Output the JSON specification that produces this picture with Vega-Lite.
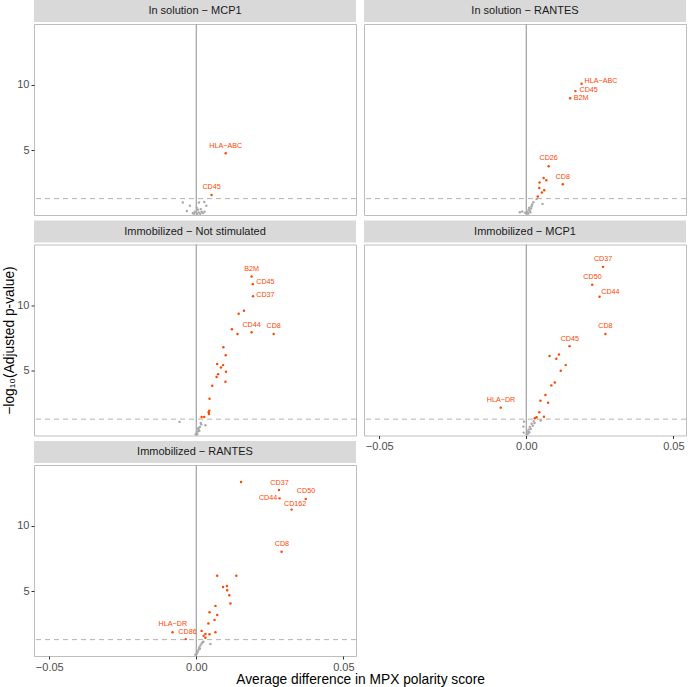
{
  "$schema": "https://vega.github.io/schema/vega-lite/v6.json",
  "padding": {"left": 2, "top": 0, "right": 0, "bottom": 0},
  "background": "white",
  "config": {
    "font": "Liberation Sans",
    "view": {"stroke": "#bdbdbd", "strokeWidth": 1},
    "axis": {"grid": false, "domain": false, "tickColor": "#333333", "tickSize": 3, "labelColor": "#4d4d4d", "labelFontSize": 11, "labelFont": "Liberation Sans", "titleFont": "Liberation Sans", "titleFontSize": 13.75, "titleFontWeight": "normal", "titleColor": "#000000"},
    "title": {"font": "Liberation Sans", "fontSize": 13.75, "fontWeight": "normal", "color": "#000000"}
  },
  "title": {"text": "Average difference in MPX polarity score", "orient": "bottom", "anchor": "middle", "offset": 0, "dx": 16},
  "datasets": {
    "p1": [
      {"x": 0.0100, "y": 4.77, "sig": "yes", "label": "HLA−ABC", "lx": 0.0100, "ly": 5.36},
      {"x": 0.0052, "y": 1.58, "sig": "yes", "label": "CD45", "lx": 0.0052, "ly": 2.17},
      {"x": -0.0046, "y": 1.0, "sig": "no"}, {"x": -0.0022, "y": 0.75, "sig": "no"}, {"x": 0.0009, "y": 1.0, "sig": "no"},
      {"x": 0.0027, "y": 1.05, "sig": "no"}, {"x": 0.0034, "y": 0.75, "sig": "no"}, {"x": -0.0032, "y": 0.35, "sig": "no"},
      {"x": -0.0012, "y": 0.2, "sig": "no"}, {"x": -0.0005, "y": 0.3, "sig": "no"}, {"x": 0.0003, "y": 0.15, "sig": "no"},
      {"x": 0.0008, "y": 0.25, "sig": "no"}, {"x": 0.0013, "y": 0.15, "sig": "no"}, {"x": 0.0018, "y": 0.3, "sig": "no"},
      {"x": 0.0022, "y": 0.2, "sig": "no"}, {"x": 0.0005, "y": 0.45, "sig": "no"}, {"x": -0.0008, "y": 0.15, "sig": "no"},
      {"x": 0.0015, "y": 0.5, "sig": "no"}, {"x": 0.0028, "y": 0.3, "sig": "no"}, {"x": 0.0001, "y": 0.6, "sig": "no"}
    ],
    "p2": [
      {"x": 0.0188, "y": 10.08, "sig": "yes", "label": "HLA−ABC", "lx": 0.0254, "ly": 10.28},
      {"x": 0.0167, "y": 9.52, "sig": "yes", "label": "CD45", "lx": 0.0212, "ly": 9.62},
      {"x": 0.0149, "y": 8.98, "sig": "yes", "label": "B2M", "lx": 0.0186, "ly": 9.01},
      {"x": 0.0076, "y": 3.78, "sig": "yes", "label": "CD26", "lx": 0.0076, "ly": 4.37},
      {"x": 0.0124, "y": 2.40, "sig": "yes", "label": "CD8", "lx": 0.0124, "ly": 2.99},
      {"x": 0.0059, "y": 2.88, "sig": "yes"}, {"x": 0.0068, "y": 2.71, "sig": "yes"}, {"x": 0.0045, "y": 2.53, "sig": "yes"},
      {"x": 0.0044, "y": 2.12, "sig": "yes"}, {"x": 0.0061, "y": 1.94, "sig": "yes"}, {"x": 0.0053, "y": 1.77, "sig": "yes"},
      {"x": 0.0039, "y": 1.46, "sig": "yes"},
      {"x": 0.0035, "y": 1.28, "sig": "no"}, {"x": 0.0024, "y": 1.03, "sig": "no"}, {"x": 0.0055, "y": 0.9, "sig": "no"},
      {"x": 0.0018, "y": 0.72, "sig": "no"}, {"x": -0.0014, "y": 0.31, "sig": "no"}, {"x": -0.0022, "y": 0.26, "sig": "no"},
      {"x": 0.0003, "y": 0.3, "sig": "no"}, {"x": 0.0008, "y": 0.45, "sig": "no"}, {"x": 0.0012, "y": 0.35, "sig": "no"},
      {"x": 0.0016, "y": 0.55, "sig": "no"}, {"x": 0.0005, "y": 0.2, "sig": "no"}, {"x": 0.001, "y": 0.6, "sig": "no"},
      {"x": 0.0006, "y": 0.15, "sig": "no"}, {"x": 0.0014, "y": 0.25, "sig": "no"}, {"x": 0.002, "y": 0.85, "sig": "no"},
      {"x": -0.0004, "y": 0.22, "sig": "no"}
    ],
    "p3": [
      {"x": 0.0188, "y": 12.21, "sig": "yes", "label": "B2M", "lx": 0.0188, "ly": 12.74},
      {"x": 0.0192, "y": 11.62, "sig": "yes", "label": "CD45", "lx": 0.0235, "ly": 11.77},
      {"x": 0.0193, "y": 10.69, "sig": "yes", "label": "CD37", "lx": 0.0235, "ly": 10.78},
      {"x": 0.0188, "y": 7.94, "sig": "yes", "label": "CD44", "lx": 0.0188, "ly": 8.50},
      {"x": 0.0263, "y": 7.81, "sig": "yes", "label": "CD8", "lx": 0.0263, "ly": 8.40},
      {"x": 0.0162, "y": 9.59, "sig": "yes"}, {"x": 0.0144, "y": 9.36, "sig": "yes"}, {"x": 0.0121, "y": 8.17, "sig": "yes"},
      {"x": 0.0140, "y": 7.81, "sig": "yes"}, {"x": 0.0092, "y": 6.80, "sig": "yes"}, {"x": 0.0100, "y": 6.19, "sig": "yes"},
      {"x": 0.0071, "y": 5.51, "sig": "yes"}, {"x": 0.0091, "y": 5.43, "sig": "yes"}, {"x": 0.0084, "y": 5.25, "sig": "yes"},
      {"x": 0.0101, "y": 4.92, "sig": "yes"}, {"x": 0.0074, "y": 4.74, "sig": "yes"}, {"x": 0.0069, "y": 4.52, "sig": "yes"},
      {"x": 0.0099, "y": 4.16, "sig": "yes"}, {"x": 0.0054, "y": 3.85, "sig": "yes"}, {"x": 0.0045, "y": 2.86, "sig": "yes"},
      {"x": 0.0044, "y": 1.95, "sig": "yes"}, {"x": 0.0042, "y": 1.82, "sig": "yes"}, {"x": 0.0043, "y": 1.70, "sig": "yes"},
      {"x": 0.0018, "y": 1.47, "sig": "yes"}, {"x": 0.0027, "y": 1.47, "sig": "yes"},
      {"x": -0.0057, "y": 1.09, "sig": "no"}, {"x": 0.0031, "y": 0.83, "sig": "no"}, {"x": 0.0015, "y": 1.0, "sig": "no"},
      {"x": 0.0012, "y": 0.7, "sig": "no"}, {"x": 0.0008, "y": 0.5, "sig": "no"}, {"x": 0.0004, "y": 0.35, "sig": "no"},
      {"x": 0.0001, "y": 0.2, "sig": "no"}, {"x": -0.0002, "y": 0.15, "sig": "no"}, {"x": 0.0006, "y": 0.6, "sig": "no"},
      {"x": 0.0017, "y": 0.9, "sig": "no"}, {"x": 0.0003, "y": 0.15, "sig": "no"}, {"x": 0.001, "y": 0.4, "sig": "no"}
    ],
    "p4": [
      {"x": 0.0261, "y": 12.94, "sig": "yes", "label": "CD37", "lx": 0.0261, "ly": 13.53},
      {"x": 0.0224, "y": 11.57, "sig": "yes", "label": "CD50", "lx": 0.0225, "ly": 12.16},
      {"x": 0.0249, "y": 10.66, "sig": "yes", "label": "CD44", "lx": 0.0286, "ly": 11.01},
      {"x": 0.0269, "y": 7.81, "sig": "yes", "label": "CD8", "lx": 0.0269, "ly": 8.40},
      {"x": 0.0147, "y": 6.88, "sig": "yes", "label": "CD45", "lx": 0.0148, "ly": 7.46},
      {"x": -0.0087, "y": 2.18, "sig": "yes", "label": "HLA−DR", "lx": -0.0086, "ly": 2.73},
      {"x": 0.0079, "y": 6.12, "sig": "yes"}, {"x": 0.0111, "y": 6.24, "sig": "yes"}, {"x": 0.0102, "y": 5.91, "sig": "yes"},
      {"x": 0.0134, "y": 5.43, "sig": "yes"}, {"x": 0.0117, "y": 5.00, "sig": "yes"}, {"x": 0.0097, "y": 4.10, "sig": "yes"},
      {"x": 0.0085, "y": 3.88, "sig": "yes"}, {"x": 0.0065, "y": 3.15, "sig": "yes"}, {"x": 0.0048, "y": 2.71, "sig": "yes"},
      {"x": 0.0074, "y": 2.56, "sig": "yes"}, {"x": 0.0044, "y": 1.82, "sig": "yes"}, {"x": 0.0060, "y": 1.49, "sig": "yes"},
      {"x": 0.0035, "y": 1.44, "sig": "yes"}, {"x": 0.0029, "y": 1.37, "sig": "yes"},
      {"x": -0.0008, "y": 1.11, "sig": "no"}, {"x": -0.001, "y": 0.73, "sig": "no"}, {"x": -0.0009, "y": 0.27, "sig": "no"},
      {"x": 0.0049, "y": 1.19, "sig": "no"}, {"x": 0.0025, "y": 1.15, "sig": "no"}, {"x": 0.0018, "y": 0.95, "sig": "no"},
      {"x": 0.0012, "y": 0.7, "sig": "no"}, {"x": 0.0022, "y": 0.8, "sig": "no"}, {"x": 0.0008, "y": 0.5, "sig": "no"},
      {"x": 0.0015, "y": 0.55, "sig": "no"}, {"x": 0.0005, "y": 0.35, "sig": "no"}, {"x": 0.001, "y": 0.3, "sig": "no"},
      {"x": 0.0002, "y": 0.15, "sig": "no"}, {"x": 0.0028, "y": 1.0, "sig": "no"}, {"x": 0.0006, "y": 0.2, "sig": "no"}
    ],
    "p5": [
      {"x": 0.0281, "y": 12.74, "sig": "yes", "label": "CD37", "lx": 0.0283, "ly": 13.30},
      {"x": 0.0372, "y": 12.06, "sig": "yes", "label": "CD50", "lx": 0.0373, "ly": 12.64},
      {"x": 0.0283, "y": 12.10, "sig": "yes", "label": "CD44", "lx": 0.0244, "ly": 12.13},
      {"x": 0.0324, "y": 11.24, "sig": "yes", "label": "CD162", "lx": 0.0336, "ly": 11.65},
      {"x": 0.0290, "y": 8.02, "sig": "yes", "label": "CD8", "lx": 0.0291, "ly": 8.58},
      {"x": -0.0081, "y": 1.87, "sig": "yes", "label": "HLA−DR", "lx": -0.0080, "ly": 2.46},
      {"x": -0.0036, "y": 1.34, "sig": "yes", "label": "CD86", "lx": -0.0030, "ly": 1.90},
      {"x": 0.0152, "y": 13.35, "sig": "yes"}, {"x": 0.0071, "y": 6.19, "sig": "yes"}, {"x": 0.0136, "y": 6.19, "sig": "yes"},
      {"x": 0.0091, "y": 5.32, "sig": "yes"}, {"x": 0.0104, "y": 5.40, "sig": "yes"}, {"x": 0.0105, "y": 5.07, "sig": "yes"},
      {"x": 0.0112, "y": 4.69, "sig": "yes"}, {"x": 0.0116, "y": 4.06, "sig": "yes"}, {"x": 0.0065, "y": 3.88, "sig": "yes"},
      {"x": 0.0045, "y": 3.40, "sig": "yes"}, {"x": 0.0071, "y": 3.19, "sig": "yes"}, {"x": 0.0062, "y": 2.81, "sig": "yes"},
      {"x": 0.0041, "y": 2.54, "sig": "yes"}, {"x": 0.0018, "y": 1.97, "sig": "yes"}, {"x": 0.0065, "y": 1.87, "sig": "yes"},
      {"x": 0.0031, "y": 1.74, "sig": "yes"}, {"x": 0.0045, "y": 1.72, "sig": "yes"}, {"x": 0.0025, "y": 1.59, "sig": "yes"},
      {"x": 0.0031, "y": 1.44, "sig": "yes"},
      {"x": 0.0048, "y": 0.96, "sig": "no"}, {"x": 0.0022, "y": 1.11, "sig": "no"}, {"x": 0.0002, "y": 0.25, "sig": "no"},
      {"x": 0.0005, "y": 0.4, "sig": "no"}, {"x": 0.0008, "y": 0.55, "sig": "no"}, {"x": 0.001, "y": 0.7, "sig": "no"},
      {"x": 0.0014, "y": 0.85, "sig": "no"}, {"x": 0.0018, "y": 1.0, "sig": "no"}, {"x": 0.0024, "y": 1.15, "sig": "no"},
      {"x": -0.0003, "y": 0.15, "sig": "no"}, {"x": 0.0012, "y": 0.6, "sig": "no"}
    ]
  },
  "spacing": 6,
  "hconcat": [
    {
      "spacing": 3.5,
      "vconcat": [
        {
          "spacing": 0,
          "vconcat": [
            {"data": {"values": [{"t": "In solution − MCP1"}]}, "width": 322, "height": 22, "view": {"fill": "#d9d9d9", "stroke": null},
             "mark": {"type": "text", "fontSize": 11, "color": "#1a1a1a"}, "encoding": {"text": {"field": "t"}}},
            {"width": 322, "height": 191, "data": {"name": "p1"},
             "layer": [
              {"data": {"values": [{"v": 0}]}, "mark": {"type": "rule", "color": "#a8a8a8", "strokeWidth": 1.3},
               "encoding": {"x": {"field": "v", "type": "quantitative", "title": null, "scale": {"domain": [-0.0552, 0.0543], "nice": false, "zero": false}}}},
              {"data": {"values": [{"h": 1.301}]}, "mark": {"type": "rule", "color": "#b3b3b3", "strokeWidth": 1, "strokeDash": [5, 4]},
               "encoding": {"y": {"field": "h", "type": "quantitative", "title": null, "scale": {"domain": [0.05, 14.65], "nice": false, "zero": false}}}},
              {"mark": {"type": "circle", "size": 6, "opacity": 1},
               "encoding": {
                 "x": {"field": "x", "type": "quantitative", "title": null, "scale": {"domain": [-0.0552, 0.0543], "nice": false, "zero": false}, "axis": null},
                 "y": {"field": "y", "type": "quantitative", "title": null, "scale": {"domain": [0.05, 14.65], "nice": false, "zero": false}, "axis": {"values": [5, 10], "title": null}},
                 "color": {"field": "sig", "type": "nominal", "scale": {"domain": ["no", "yes"], "range": ["#a9a9a9", "#ff4500"]}, "legend": null}}},
              {"transform": [{"filter": "datum.label"}], "mark": {"type": "text", "fontSize": 7.2, "color": "#ff4500"},
               "encoding": {"x": {"field": "lx", "type": "quantitative", "title": null, "scale": {"domain": [-0.0552, 0.0543], "nice": false, "zero": false}},
                 "y": {"field": "ly", "type": "quantitative", "title": null, "scale": {"domain": [0.05, 14.65], "nice": false, "zero": false}},
                 "text": {"field": "label"}}}
             ]}
          ]
        },
        {
          "spacing": 0,
          "vconcat": [
            {"data": {"values": [{"t": "Immobilized − Not stimulated"}]}, "width": 322, "height": 22, "view": {"fill": "#d9d9d9", "stroke": null},
             "mark": {"type": "text", "fontSize": 11, "color": "#1a1a1a"}, "encoding": {"text": {"field": "t"}}},
            {"width": 322, "height": 191, "data": {"name": "p3"},
             "layer": [
              {"data": {"values": [{"v": 0}]}, "mark": {"type": "rule", "color": "#a8a8a8", "strokeWidth": 1.3},
               "encoding": {"x": {"field": "v", "type": "quantitative", "title": null, "scale": {"domain": [-0.0552, 0.0543], "nice": false, "zero": false}}}},
              {"data": {"values": [{"h": 1.301}]}, "mark": {"type": "rule", "color": "#b3b3b3", "strokeWidth": 1, "strokeDash": [5, 4]},
               "encoding": {"y": {"field": "h", "type": "quantitative", "title": "−log₁₀(Adjusted p-value)", "scale": {"domain": [0.05, 14.65], "nice": false, "zero": false}}}},
              {"mark": {"type": "circle", "size": 6, "opacity": 1},
               "encoding": {
                 "x": {"field": "x", "type": "quantitative", "title": null, "scale": {"domain": [-0.0552, 0.0543], "nice": false, "zero": false}, "axis": null},
                 "y": {"field": "y", "type": "quantitative", "title": "−log₁₀(Adjusted p-value)", "scale": {"domain": [0.05, 14.65], "nice": false, "zero": false}, "axis": {"values": [5, 10], "titlePadding": 0}},
                 "color": {"field": "sig", "type": "nominal", "scale": {"domain": ["no", "yes"], "range": ["#a9a9a9", "#ff4500"]}, "legend": null}}},
              {"transform": [{"filter": "datum.label"}], "mark": {"type": "text", "fontSize": 7.2, "color": "#ff4500"},
               "encoding": {"x": {"field": "lx", "type": "quantitative", "title": null, "scale": {"domain": [-0.0552, 0.0543], "nice": false, "zero": false}},
                 "y": {"field": "ly", "type": "quantitative", "title": "−log₁₀(Adjusted p-value)", "scale": {"domain": [0.05, 14.65], "nice": false, "zero": false}},
                 "text": {"field": "label"}}}
             ]}
          ]
        },
        {
          "spacing": 0,
          "vconcat": [
            {"data": {"values": [{"t": "Immobilized − RANTES"}]}, "width": 322, "height": 22, "view": {"fill": "#d9d9d9", "stroke": null},
             "mark": {"type": "text", "fontSize": 11, "color": "#1a1a1a"}, "encoding": {"text": {"field": "t"}}},
            {"width": 322, "height": 191, "data": {"name": "p5"},
             "layer": [
              {"data": {"values": [{"v": 0}]}, "mark": {"type": "rule", "color": "#a8a8a8", "strokeWidth": 1.3},
               "encoding": {"x": {"field": "v", "type": "quantitative", "title": null, "scale": {"domain": [-0.0552, 0.0543], "nice": false, "zero": false}}}},
              {"data": {"values": [{"h": 1.301}]}, "mark": {"type": "rule", "color": "#b3b3b3", "strokeWidth": 1, "strokeDash": [5, 4]},
               "encoding": {"y": {"field": "h", "type": "quantitative", "title": null, "scale": {"domain": [0.05, 14.65], "nice": false, "zero": false}}}},
              {"mark": {"type": "circle", "size": 6, "opacity": 1},
               "encoding": {
                 "x": {"field": "x", "type": "quantitative", "title": null, "scale": {"domain": [-0.0552, 0.0543], "nice": false, "zero": false}, "axis": {"values": [-0.05, 0, 0.05], "format": ".2f", "title": null}},
                 "y": {"field": "y", "type": "quantitative", "title": null, "scale": {"domain": [0.05, 14.65], "nice": false, "zero": false}, "axis": {"values": [5, 10], "title": null}},
                 "color": {"field": "sig", "type": "nominal", "scale": {"domain": ["no", "yes"], "range": ["#a9a9a9", "#ff4500"]}, "legend": null}}},
              {"transform": [{"filter": "datum.label"}], "mark": {"type": "text", "fontSize": 7.2, "color": "#ff4500"},
               "encoding": {"x": {"field": "lx", "type": "quantitative", "title": null, "scale": {"domain": [-0.0552, 0.0543], "nice": false, "zero": false}},
                 "y": {"field": "ly", "type": "quantitative", "title": null, "scale": {"domain": [0.05, 14.65], "nice": false, "zero": false}},
                 "text": {"field": "label"}}}
             ]}
          ]
        }
      ]
    },
    {
      "spacing": 3.5,
      "vconcat": [
        {
          "spacing": 0,
          "vconcat": [
            {"data": {"values": [{"t": "In solution − RANTES"}]}, "width": 322, "height": 22, "view": {"fill": "#d9d9d9", "stroke": null},
             "mark": {"type": "text", "fontSize": 11, "color": "#1a1a1a"}, "encoding": {"text": {"field": "t"}}},
            {"width": 322, "height": 191, "data": {"name": "p2"},
             "layer": [
              {"data": {"values": [{"v": 0}]}, "mark": {"type": "rule", "color": "#a8a8a8", "strokeWidth": 1.3},
               "encoding": {"x": {"field": "v", "type": "quantitative", "title": null, "scale": {"domain": [-0.0552, 0.0543], "nice": false, "zero": false}}}},
              {"data": {"values": [{"h": 1.301}]}, "mark": {"type": "rule", "color": "#b3b3b3", "strokeWidth": 1, "strokeDash": [5, 4]},
               "encoding": {"y": {"field": "h", "type": "quantitative", "title": null, "scale": {"domain": [0.05, 14.65], "nice": false, "zero": false}}}},
              {"mark": {"type": "circle", "size": 6, "opacity": 1},
               "encoding": {
                 "x": {"field": "x", "type": "quantitative", "title": null, "scale": {"domain": [-0.0552, 0.0543], "nice": false, "zero": false}, "axis": null},
                 "y": {"field": "y", "type": "quantitative", "title": null, "scale": {"domain": [0.05, 14.65], "nice": false, "zero": false}, "axis": null},
                 "color": {"field": "sig", "type": "nominal", "scale": {"domain": ["no", "yes"], "range": ["#a9a9a9", "#ff4500"]}, "legend": null}}},
              {"transform": [{"filter": "datum.label"}], "mark": {"type": "text", "fontSize": 7.2, "color": "#ff4500"},
               "encoding": {"x": {"field": "lx", "type": "quantitative", "title": null, "scale": {"domain": [-0.0552, 0.0543], "nice": false, "zero": false}},
                 "y": {"field": "ly", "type": "quantitative", "title": null, "scale": {"domain": [0.05, 14.65], "nice": false, "zero": false}},
                 "text": {"field": "label"}}}
             ]}
          ]
        },
        {
          "spacing": 0,
          "vconcat": [
            {"data": {"values": [{"t": "Immobilized − MCP1"}]}, "width": 322, "height": 22, "view": {"fill": "#d9d9d9", "stroke": null},
             "mark": {"type": "text", "fontSize": 11, "color": "#1a1a1a"}, "encoding": {"text": {"field": "t"}}},
            {"width": 322, "height": 191, "data": {"name": "p4"},
             "layer": [
              {"data": {"values": [{"v": 0}]}, "mark": {"type": "rule", "color": "#a8a8a8", "strokeWidth": 1.3},
               "encoding": {"x": {"field": "v", "type": "quantitative", "title": null, "scale": {"domain": [-0.0552, 0.0543], "nice": false, "zero": false}}}},
              {"data": {"values": [{"h": 1.301}]}, "mark": {"type": "rule", "color": "#b3b3b3", "strokeWidth": 1, "strokeDash": [5, 4]},
               "encoding": {"y": {"field": "h", "type": "quantitative", "title": null, "scale": {"domain": [0.05, 14.65], "nice": false, "zero": false}}}},
              {"mark": {"type": "circle", "size": 6, "opacity": 1},
               "encoding": {
                 "x": {"field": "x", "type": "quantitative", "title": null, "scale": {"domain": [-0.0552, 0.0543], "nice": false, "zero": false}, "axis": {"values": [-0.05, 0, 0.05], "format": ".2f", "title": null}},
                 "y": {"field": "y", "type": "quantitative", "title": null, "scale": {"domain": [0.05, 14.65], "nice": false, "zero": false}, "axis": null},
                 "color": {"field": "sig", "type": "nominal", "scale": {"domain": ["no", "yes"], "range": ["#a9a9a9", "#ff4500"]}, "legend": null}}},
              {"transform": [{"filter": "datum.label"}], "mark": {"type": "text", "fontSize": 7.2, "color": "#ff4500"},
               "encoding": {"x": {"field": "lx", "type": "quantitative", "title": null, "scale": {"domain": [-0.0552, 0.0543], "nice": false, "zero": false}},
                 "y": {"field": "ly", "type": "quantitative", "title": null, "scale": {"domain": [0.05, 14.65], "nice": false, "zero": false}},
                 "text": {"field": "label"}}}
             ]}
          ]
        }
      ]
    }
  ]
}
